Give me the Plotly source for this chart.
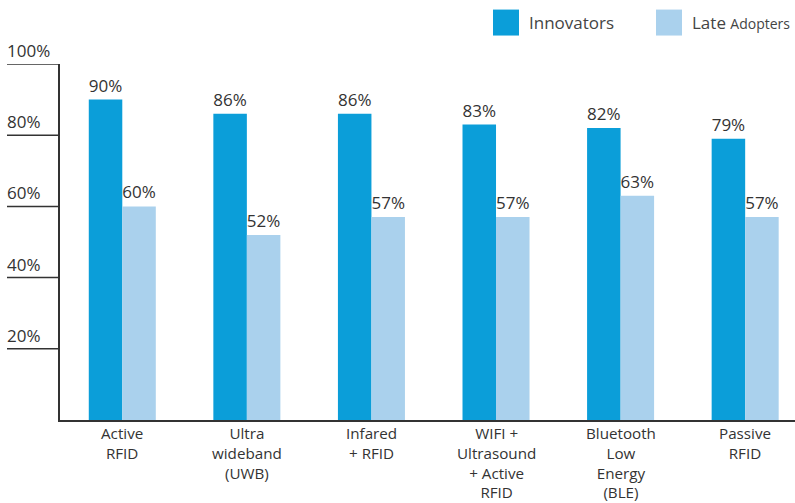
import plotly.graph_objects as go

categories = ["Active<br>RFID", "Ultra<br>wideband<br>(UWB)", "Infared<br>+ RFID",
              "WIFI +<br>Ultrasound<br>+ Active<br>RFID", "Bluetooth<br>Low<br>Energy<br>(BLE)",
              "Passive<br>RFID"]
innovators = [90, 86, 86, 83, 82, 79]
late_adopters = [60, 52, 57, 57, 63, 57]
y_ticks = [20, 40, 60, 80, 100]
y_tick_labels = ["20%", "40%", "60%", "80%", "100%"]

C_INNOV = "#0b9ed9"
C_LATE = "#aad1ed"
TXT = "#333333"
FONT = "Open Sans"
FS = 17

fig = go.Figure()
fig.add_trace(go.Bar(x=categories, y=innovators, name="Innovators",
                     marker=dict(color=C_INNOV, line=dict(width=0)),
                     text=[f"{v}%" for v in innovators], textposition="outside",
                     textfont=dict(size=FS, color=TXT, family=FONT), cliponaxis=False))
fig.add_trace(go.Bar(x=categories, y=late_adopters, name="Late Adopters",
                     marker=dict(color=C_LATE, line=dict(width=0)),
                     text=[f"{v}%" for v in late_adopters], textposition="outside",
                     textfont=dict(size=FS, color=TXT, family=FONT), cliponaxis=False))

shapes = []
annotations = []
for v, lab in zip(y_ticks, y_tick_labels):
    shapes.append(dict(type="line", xref="paper", yref="y", x0=-53/735, x1=0, y0=v, y1=v,
                       line=dict(color=TXT, width=1.5)))
    annotations.append(dict(xref="paper", yref="y", x=-53/735, y=v, text=lab, showarrow=False,
                            xanchor="left", yanchor="bottom", yshift=0, xshift=-2,
                            font=dict(size=FS, color=TXT, family=FONT)))

# category labels
for cat in categories:
    annotations.append(dict(xref="x", yref="paper", x=cat, y=0, text=cat, showarrow=False,
                            xanchor="center", yanchor="top", yshift=-1, align="center",
                            font=dict(size=15.2, color=TXT, family=FONT)))

# manual legend
W, H = 795, 503
def px(x):
    return (x - 60) / 735
def py(y):
    return (420 - y) / 356.5
shapes.append(dict(type="rect", xref="paper", yref="paper", x0=px(493), x1=px(519), y0=py(35), y1=py(9),
                   fillcolor=C_INNOV, line=dict(width=0)))
shapes.append(dict(type="rect", xref="paper", yref="paper", x0=px(656), x1=px(682), y0=py(35), y1=py(9),
                   fillcolor=C_LATE, line=dict(width=0)))
annotations.append(dict(xref="paper", yref="paper", x=px(527), y=py(22), text="Innovators", showarrow=False,
                        xanchor="left", yanchor="middle", font=dict(size=FS, color="#444", family=FONT)))
annotations.append(dict(xref="paper", yref="paper", x=px(690), y=py(22),
                        text='Late <span style="font-size:14px">Adopters</span>', showarrow=False,
                        xanchor="left", yanchor="middle", font=dict(size=FS, color="#444", family=FONT)))

fig.update_layout(
    width=W, height=H,
    margin=dict(l=60, r=0, t=63.5, b=83),
    paper_bgcolor="white", plot_bgcolor="white",
    barmode="group", bargap=0.462, bargroupgap=0,
    showlegend=False,
    font=dict(family=FONT, color=TXT),
    xaxis=dict(range=[-0.5, 5.4], showline=True, linecolor=TXT, linewidth=2, ticks="",
               showticklabels=False, showgrid=False, fixedrange=True),
    yaxis=dict(range=[0, 100], showline=True, linecolor=TXT, linewidth=2, ticks="",
               showticklabels=False, showgrid=False, zeroline=False, fixedrange=True),
    shapes=shapes, annotations=annotations,
)
fig.write_html("out.html", config={"displayModeBar": False},
               post_script="document.body.style.margin='0';")
